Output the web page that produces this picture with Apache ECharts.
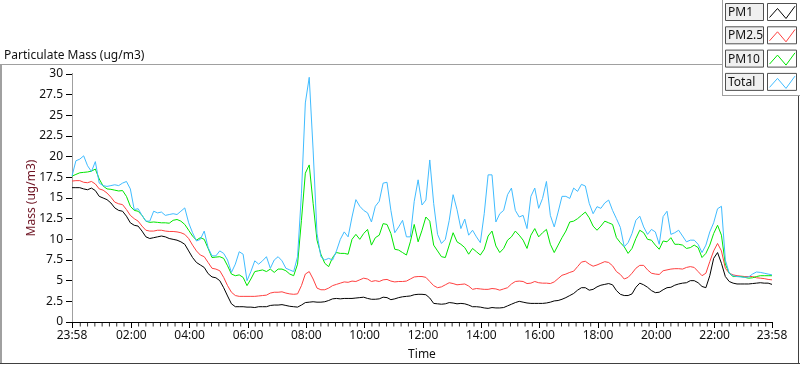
<!DOCTYPE html>
<html><head><meta charset="utf-8">
<script src="https://cdn.jsdelivr.net/npm/echarts@6/dist/echarts.min.js"></script>
<style>html,body{margin:0;padding:0;background:#fff}#c{width:800px;height:365px}</style>
</head><body><div id="c"></div><script>
// ---- data ----
const chartTitle = 'Particulate Mass (ug/m3)';
const yAxisTitle = 'Mass (ug/m3)';
const xAxisTitle = 'Time';
const seriesNames = ['PM1', 'PM2.5', 'PM10', 'Total'];
const seriesColors = ['#000000', '#ff4040', '#00e600', '#40bcff'];
const startClock = '23:58';
const sampleStepMin = 8; // one reading every 8 minutes from start
const xTickLabels = ['23:58','02:00','04:00','06:00','08:00','10:00','12:00','14:00','16:00','18:00','20:00','22:00','23:58'];
const yMin = 0, yMax = 30, yStep = 2.5;

const pm1 = [
16.25,16.25,16.25,16.1,16.0,16.2,15.9,15.2,15.0,14.8,14.4,13.8,13.5,13.4,12.8,12.0,11.7,11.6,11.0,10.3,10.1,10.2,10.3,10.4,10.3,10.1,10.0,9.9,9.7,9.4,8.6,7.8,7.2,6.9,6.6,5.85,5.45,5.35,5.0,4.15,3.15,2.2,1.85,1.85,1.85,1.8,1.8,1.75,
1.85,1.85,1.85,2.0,2.05,2.05,2.1,2.0,1.9,1.85,1.8,2.05,2.35,2.4,2.45,2.4,2.4,2.45,2.6,2.8,2.85,2.8,2.85,2.85,2.85,2.9,2.95,3.0,2.85,2.75,2.75,2.8,3.0,2.95,2.7,2.8,2.95,3.05,3.1,3.15,3.3,3.35,3.35,3.3,2.9,2.25,2.2,
2.15,2.2,2.35,2.3,2.2,2.25,2.2,2.05,1.85,1.85,1.8,1.7,1.65,1.75,1.7,1.7,1.75,1.95,2.15,2.35,2.5,2.4,2.3,2.25,2.25,2.25,2.25,2.3,2.4,2.55,2.6,2.75,2.95,3.2,3.45,3.85,4.15,4.15,3.85,3.95,4.25,4.45,4.55,4.65,4.5,3.8,3.35,
3.2,3.2,3.4,4.2,4.7,4.5,4.2,3.8,3.55,3.6,3.9,4.15,4.2,4.45,4.6,4.7,4.75,5.0,5.0,4.75,4.3,4.15,5.6,7.7,8.4,7.1,5.5,4.9,4.7,4.6,4.6,4.6,4.6,4.65,4.7,4.75,4.7,4.7,4.55
];
const pm25 = [
17.05,17.1,17.1,16.9,16.85,17.0,16.7,16.1,15.95,15.6,15.1,14.5,14.3,14.2,13.6,12.9,12.5,12.2,11.6,11.1,11.0,11.0,11.1,11.1,11.0,10.95,10.95,10.9,10.8,10.6,10.1,9.3,8.6,8.1,7.9,7.2,6.5,6.4,6.2,5.4,4.4,3.6,3.2,3.1,3.1,3.1,3.1,3.1,
3.15,3.2,3.25,3.5,3.6,3.6,3.65,3.5,3.4,3.35,3.4,4.4,5.8,6.1,5.2,4.1,3.9,3.9,4.1,4.4,4.55,4.7,4.85,4.8,4.95,4.9,5.1,5.3,5.2,4.9,5.0,4.9,5.1,5.15,4.95,4.85,4.9,4.9,4.95,5.2,5.45,5.5,5.5,5.4,4.9,4.4,4.15,
4.25,4.5,4.75,4.65,4.5,4.55,4.6,4.35,3.95,4.05,4.0,3.95,3.95,4.05,4.0,3.85,4.0,4.15,4.6,4.9,4.95,4.9,4.65,4.7,4.9,4.75,4.7,4.7,4.65,4.85,5.25,5.65,5.8,6.0,6.15,6.7,7.25,7.35,7.0,6.75,6.9,7.1,7.3,7.2,6.8,6.1,5.75,
5.2,5.4,5.9,6.5,6.85,6.85,6.3,5.9,5.8,5.75,6.2,6.3,6.4,6.45,6.45,6.4,6.6,6.7,6.6,6.1,5.6,5.9,7.3,8.6,9.5,8.6,6.5,5.9,5.7,5.6,5.55,5.5,5.5,5.5,5.35,5.3,5.25,5.15,5.1
];
const pm10 = [
17.65,17.85,18.05,18.1,18.15,18.25,18.5,17.3,16.45,16.1,16.05,15.95,15.85,15.9,15.2,14.0,13.5,13.4,12.9,12.2,12.05,12.1,12.05,12.0,12.0,11.95,12.3,12.4,12.2,11.8,11.1,10.4,9.9,10.2,10.0,8.9,7.8,7.85,7.9,7.7,6.8,5.8,5.6,5.7,5.4,4.4,5.2,6.1,
6.2,6.3,6.1,6.4,6.0,6.4,6.4,6.2,5.8,5.6,7.0,12.3,18.0,19.0,14.35,9.9,8.2,7.1,6.7,7.8,8.4,8.3,8.3,8.2,10.0,10.6,10.0,10.7,11.2,9.3,10.2,10.5,11.9,11.8,10.7,8.8,8.7,8.4,8.1,9.7,11.8,9.7,11.1,12.7,12.2,9.3,8.6,
7.9,7.8,9.3,10.8,9.7,9.4,9.0,8.2,8.9,8.5,8.1,8.8,10.4,11.0,9.2,8.4,8.9,9.9,10.3,11.0,10.5,9.9,8.9,10.5,11.3,10.3,10.8,11.2,9.4,8.4,9.3,10.2,11.0,12.1,12.2,12.5,12.9,13.3,12.6,11.6,11.1,11.6,12.2,12.0,11.8,10.2,9.6,
9.1,8.3,8.9,10.1,11.1,10.8,10.0,9.9,9.3,8.8,9.8,9.7,10.2,9.4,9.4,9.3,8.9,9.0,9.3,9.0,7.8,8.3,9.3,10.7,11.7,10.5,7.0,5.9,5.5,5.5,5.5,5.4,5.3,5.35,5.5,5.6,5.6,5.6,5.6
];
const total = [
17.65,19.5,19.7,20.1,18.9,18.2,19.4,16.8,16.5,16.4,16.5,16.6,16.5,16.8,17.0,16.1,13.6,13.7,12.9,12.2,12.2,13.4,13.2,13.3,12.9,13.0,13.1,13.0,13.4,13.8,12.0,10.8,9.8,10.0,11.0,9.0,8.0,8.0,8.6,8.3,7.5,6.0,7.0,8.5,8.2,5.0,6.1,7.4,
7.0,7.4,7.9,6.5,7.5,7.9,7.4,6.5,6.3,6.1,7.9,15.5,26.5,29.6,20.8,10.7,7.9,7.5,7.7,7.5,8.6,10.0,10.9,10.3,12.7,14.8,14.0,13.5,13.2,12.1,14.0,14.6,16.8,16.9,13.5,10.8,11.5,12.3,10.3,10.3,14.6,17.2,14.15,14.75,19.6,14.35,10.6,
9.5,10.0,12.3,15.4,13.6,11.3,12.45,10.5,11.1,10.3,9.6,13.1,17.8,17.8,12.1,13.1,13.5,15.4,16.2,13.5,12.7,12.9,11.3,15.2,16.2,13.75,14.95,17.0,12.9,11.5,13.3,15.2,15.2,14.95,16.2,15.8,16.65,16.45,14.35,13.1,13.95,13.75,14.4,14.75,13.5,12.5,11.45,
9.1,9.6,10.7,12.3,12.8,11.5,10.6,11.2,10.9,9.4,12.75,13.4,10.6,10.8,11.1,10.4,9.7,9.9,9.9,9.4,8.4,9.3,10.9,12.0,13.7,14.0,7.5,5.9,5.6,5.5,5.45,5.4,5.45,5.8,6.05,6.0,5.9,5.8,5.7
];
const seriesValues = [pm1, pm25, pm10, total];

// ---- build ----
const FONT = 'Noto Sans';
const toMin = s => { const [h, m] = s.split(':').map(Number); return h * 60 + m; };
const startMin = toMin(startClock);
const dayLen = 1440;
const times = pm1.map((_, i) => i * sampleStepMin);
const tickPos = xTickLabels.map((s, i) => {
  let o = (toMin(s) - startMin + dayLen) % dayLen;
  if (i === xTickLabels.length - 1 && o === 0) o = dayLen;
  return o;
});
const labelAt = {};
tickPos.forEach((p, i) => { labelAt[p] = xTickLabels[i]; });
// minor ticks every 15 clock-minutes, skipping those on major ticks
const minorPos = [];
for (let t = 1; t < dayLen; t++) {
  if ((startMin + t) % 15 === 0 && tickPos.every(p => Math.abs(p - t) > 3)) minorPos.push(t);
}

const GL = 72, GT = 74, GW = 700, GH = 248;
const chart = echarts.init(document.getElementById('c'), null, { renderer: 'canvas' });

const legendItems = [];
const LX = 722, LW = 78, LH = 96;
legendItems.push({ type: 'rect', shape: { x: LX, y: 0, width: LW, height: LH }, style: { fill: '#fff', stroke: null }, z: 100 });
legendItems.push({ type: 'line', shape: { x1: LX + 0.5, y1: 0, x2: LX + 0.5, y2: LH }, style: { stroke: '#a0a0a0', lineWidth: 1 }, z: 101 });
legendItems.push({ type: 'line', shape: { x1: LX, y1: LH - 0.5, x2: 800, y2: LH - 0.5 }, style: { stroke: '#a0a0a0', lineWidth: 1 }, z: 101 });
seriesNames.forEach((name, i) => {
  const y0 = 3.5 + i * 23.3;
  legendItems.push({ type: 'rect', shape: { x: 725.5, y: y0, width: 38, height: 17 }, style: { fill: '#f0f0f0', stroke: '#505050', lineWidth: 1 }, z: 102 });
  legendItems.push({ type: 'text', x: 728, y: y0 + 9, style: { text: name, font: '12px "' + FONT + '"', fill: '#111', textVerticalAlign: 'middle', verticalAlign: 'middle' }, z: 103 });
  legendItems.push({ type: 'rect', shape: { x: 767.5, y: y0, width: 29, height: 17 }, style: { fill: '#fff', stroke: '#505050', lineWidth: 1 }, z: 102 });
  legendItems.push({ type: 'polyline', shape: { points: [[769.5, y0 + 14], [777.5, y0 + 5], [786, y0 + 15], [795, y0 + 2.7]] }, style: { stroke: seriesColors[i], lineWidth: 1, fill: null }, z: 103 });
});

const lineSeries = seriesNames.map((name, i) => ({
  name, type: 'line', xAxisIndex: 0, yAxisIndex: 0,
  data: times.map((t, j) => [t, seriesValues[i][j]]),
  showSymbol: false, symbol: 'none',
  lineStyle: { color: seriesColors[i], width: 1 },
  itemStyle: { color: seriesColors[i] },
  z: 2 + i
}));
// minor tick marks below the time axis, placed through the axis scale
const minorTickSeries = {
  name: 'minorTicks', type: 'scatter', xAxisIndex: 0, yAxisIndex: 0,
  data: minorPos.map(t => [t, yMin]),
  symbol: 'rect', symbolSize: [1, 4], symbolOffset: [0, 2.5],
  itemStyle: { color: '#000' }, clip: false, silent: true, z: 1
};

const option = {
  animation: false,
  backgroundColor: '#fff',
  textStyle: { fontFamily: FONT },
  grid: { left: GL, top: GT, width: GW, height: GH, containLabel: false, outerBoundsMode: 'none' },
  xAxis: [
    {
      type: 'value', min: 0, max: dayLen, position: 'bottom', offset: 0,
      name: xAxisTitle, nameLocation: 'middle', nameGap: 27, nameMoveOverlap: false,
      nameTextStyle: { color: '#111', fontSize: 12, fontFamily: FONT },
      axisLine: { show: true, lineStyle: { color: '#a0a0a0', width: 1 } },
      axisTick: { show: true, customValues: tickPos, length: 6, lineStyle: { color: '#000' } },
      axisLabel: { show: true, customValues: tickPos, formatter: v => labelAt[v] || '', color: '#111', fontSize: 12, margin: 8, fontFamily: FONT },
      splitLine: { show: false }
    },
    {
      type: 'value', min: 0, max: dayLen, position: 'top',
      axisLine: { show: true, lineStyle: { color: '#000', width: 1 } },
      axisTick: { show: false }, axisLabel: { show: false }, splitLine: { show: false }
    }
  ],
  yAxis: [
    {
      type: 'value', min: yMin, max: yMax, interval: yStep, position: 'left',
      name: yAxisTitle, nameLocation: 'middle', nameGap: 34, nameMoveOverlap: false,
      nameTextStyle: { color: '#6e1423', fontSize: 12, fontFamily: FONT },
      axisLine: { show: true, lineStyle: { color: '#000', width: 1 } },
      axisTick: { show: true, length: 6, lineStyle: { color: '#000' } },
      axisLabel: { color: '#111', fontSize: 12, margin: 9, fontFamily: FONT },
      splitLine: { show: false }
    },
    {
      type: 'value', min: yMin, max: yMax, position: 'right',
      axisLine: { show: true, lineStyle: { color: '#a0a0a0', width: 1 } },
      axisTick: { show: false }, axisLabel: { show: false }, splitLine: { show: false }
    }
  ],
  series: lineSeries.concat([minorTickSeries]),
  graphic: [
    { type: 'text', x: 4, y: 56, style: { text: chartTitle, font: '12px "' + FONT + '"', fill: '#111', verticalAlign: 'middle', textVerticalAlign: 'middle' }, z: 50 },
    { type: 'line', shape: { x1: 0, y1: 64.5, x2: 722, y2: 64.5 }, style: { stroke: '#a0a0a0', lineWidth: 1 }, z: 50 },
    { type: 'line', shape: { x1: 1, y1: 64.5, x2: 1, y2: 363 }, style: { stroke: '#a0a0a0', lineWidth: 2 }, z: 50 },
    { type: 'line', shape: { x1: 0, y1: 363.5, x2: 800, y2: 363.5 }, style: { stroke: '#404040', lineWidth: 1 }, z: 50 },
    { type: 'line', shape: { x1: 798.5, y1: 96, x2: 798.5, y2: 364 }, style: { stroke: '#404040', lineWidth: 1 }, z: 50 }
  ].concat(legendItems)
};
chart.setOption(option);
</script></body></html>
